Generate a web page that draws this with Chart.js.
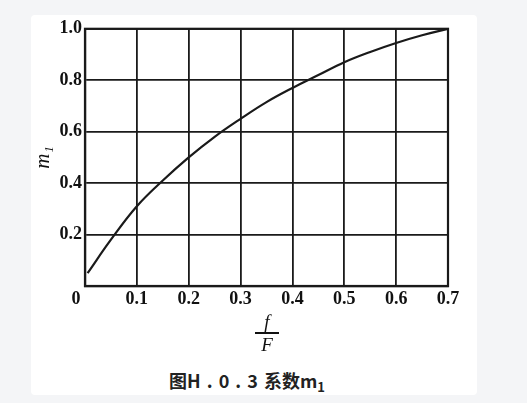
<!DOCTYPE html>
<html>
<head>
<meta charset="utf-8">
<script src="https://cdn.jsdelivr.net/npm/chart.js@4/dist/chart.umd.min.js"></script>
<style>
    html, body {margin:0; padding:0; background:#f4f5f7; width:527px; height:403px; overflow:hidden;}
    .card {position:absolute; left:31px; top:15px; width:446px; height:380px; background:#fff; border-radius:4px;}
    .chart_box {position:absolute; left:0; top:0; width:446px; height:300px;}
    .frac {position:absolute; left:222px; top:297px; width:28px; text-align:center; font-family:"Liberation Serif",serif; font-style:italic; font-size:19px; color:#111; line-height:19px;}
    .frac .bar {height:1.5px; background:#111; margin:1px 2px;}
    .caption {position:absolute; left:0; width:432px; top:352px; text-align:center; font-family:"Noto Sans CJK SC",sans-serif; font-weight:bold; font-size:18px; color:#222; word-spacing:2px;}
    .caption sub {font-size:13px; vertical-align:-4px;}
</style>
</head>
<body>
<div class="card">
    <div class="chart_box"><canvas id="m1Chart" width="446" height="300"></canvas></div>
    <div class="frac"><div>f</div><div class="bar"></div><div>F</div></div>
    <div class="caption">图H . 0 . 3 系数m<sub>1</sub></div>
</div>
<script>
    // f/F 값과 m1 값
    const ratioF = [0.005, 0.05, 0.1, 0.15, 0.2, 0.25, 0.3, 0.35, 0.4, 0.45, 0.5, 0.55, 0.6, 0.65, 0.7];
    const m1Values = [0.05, 0.18, 0.31, 0.41, 0.5, 0.58, 0.65, 0.715, 0.77, 0.82, 0.87, 0.91, 0.945, 0.975, 1.0];
    const xTicks = [0, 0.1, 0.2, 0.3, 0.4, 0.5, 0.6, 0.7];
    const yTicks = [0.2, 0.4, 0.6, 0.8, 1.0];

    const lineColor = '#1a1a1a';
    const tickFont = {family: '"Liberation Serif", serif', size: 18, weight: 'bold'};

    const ctx = document.getElementById('m1Chart').getContext('2d');
    new Chart(ctx, {
        type: 'line',
        data: {
            datasets: [{
                data: ratioF.map((x, i) => ({x: x, y: m1Values[i]})),
                borderColor: lineColor,
                borderWidth: 2.2,
                pointRadius: 0,
                tension: 0.4,
                fill: false
            }]
        },
        options: {
            responsive: false,
            animation: false,
            layout: {padding: {left: 0, right: 29, top: 9, bottom: 0}},
            plugins: {legend: {display: false}, tooltip: {enabled: false}},
            scales: {
                x: {
                    type: 'linear',
                    min: 0,
                    max: 0.7,
                    afterBuildTicks: (axis) => { axis.ticks = xTicks.map(v => ({value: v})); },
                    afterFit: (axis) => { axis.height = 29; },
                    grid: {color: lineColor, lineWidth: 1.8, drawTicks: false},
                    border: {color: lineColor, width: 2.2},
                    ticks: {
                        color: '#111',
                        font: tickFont,
                        padding: 3,
                        maxRotation: 0,
                        callback: (v) => v === 0 ? '0    ' : v.toFixed(1)
                    }
                },
                y: {
                    type: 'linear',
                    min: 0,
                    max: 1.0,
                    afterBuildTicks: (axis) => { axis.ticks = [0].concat(yTicks).map(v => ({value: v})); },
                    afterFit: (axis) => { axis.width = 54; },
                    grid: {color: lineColor, lineWidth: 1.8, drawTicks: false},
                    border: {color: lineColor, width: 2.2},
                    title: {
                        display: true,
                        text: 'm₁',
                        color: '#111',
                        font: {family: '"Liberation Serif", serif', size: 21, style: 'italic'},
                        padding: 0
                    },
                    ticks: {
                        color: '#111',
                        font: tickFont,
                        padding: 3,
                        callback: (v) => v === 0 ? '' : v.toFixed(1)
                    }
                }
            }
        },
        plugins: [{
            id: 'frame',
            afterDraw(chart) {
                const a = chart.chartArea;
                const c = chart.ctx;
                c.save();
                c.strokeStyle = lineColor;
                c.lineWidth = 2.2;
                c.strokeRect(a.left, a.top, a.right - a.left, a.bottom - a.top);
                c.restore();
            }
        }]
    });
</script>
</body>
</html>
